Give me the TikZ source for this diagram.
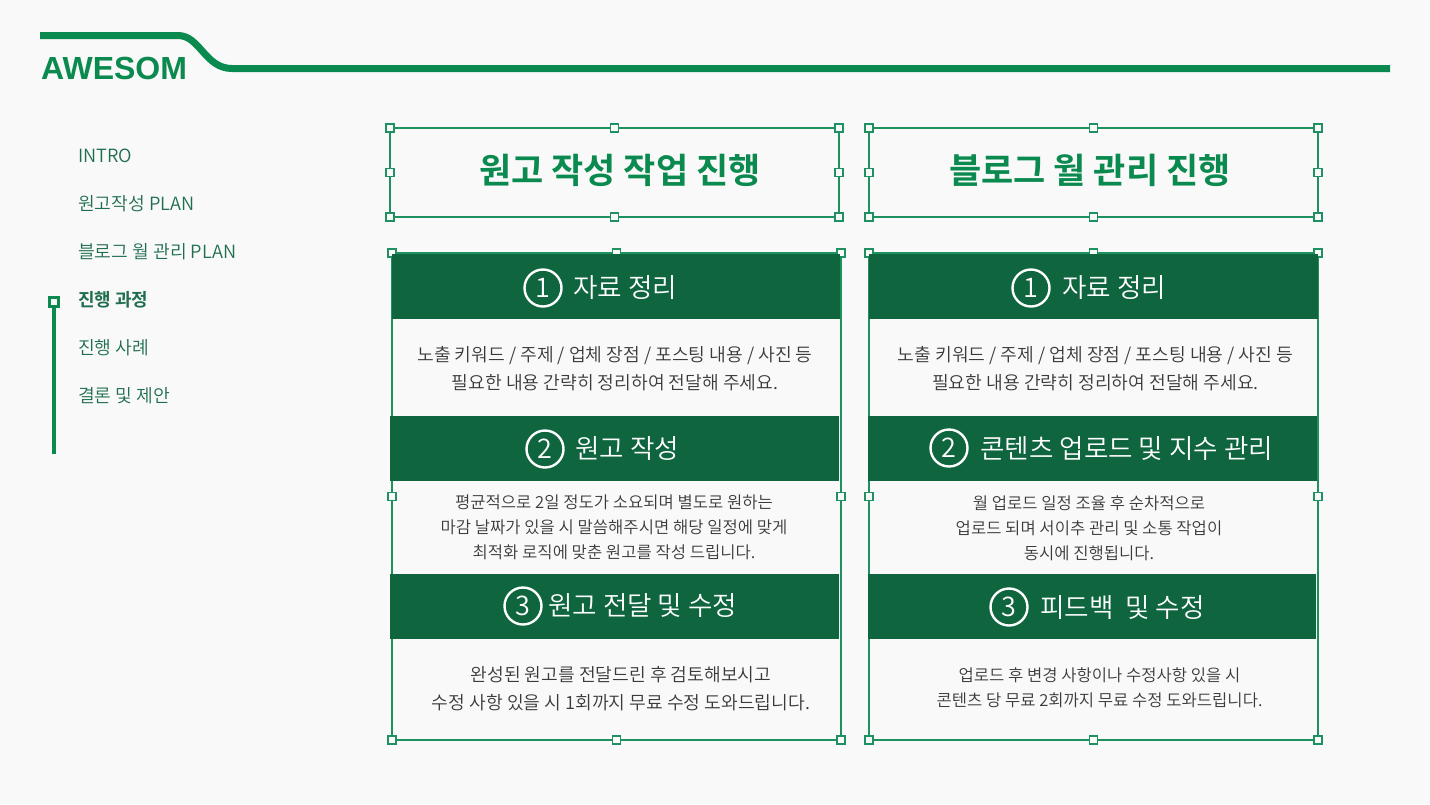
\documentclass[tikz,border=0pt]{standalone}
\usepackage{fontspec}
\setmainfont{Noto Sans CJK KR DemiLight}[BoldFont=Noto Sans CJK KR Bold]
\newfontfamily\logofont{Liberation Sans}
\definecolor{pagebg}{HTML}{F9F9F9}
\definecolor{linegreen}{HTML}{0B8A50}
\definecolor{bandgreen}{HTML}{0E653E}
\definecolor{framegreen}{HTML}{1F9060}
\definecolor{menugreen}{HTML}{1F6E4E}
\definecolor{bodygray}{HTML}{3A3A3A}
\tikzset{
  selframe/.style={draw=framegreen,line width=1.6pt,inner sep=0pt,outer sep=0pt,anchor=north west},
  handle/.style={draw=framegreen,fill=pagebg,line width=1.4pt,minimum size=8pt,inner sep=0pt},
  band/.style={fill=bandgreen,inner sep=0pt,outer sep=0pt,anchor=north west,minimum height=65pt},
  numcircle/.style={draw=white,circle,line width=2.4pt,minimum size=37pt,inner sep=0pt,text=white,font=\fontsize{27}{27}\selectfont},
  bandtext/.style={anchor=west,text=white,inner sep=0pt,font=\fontsize{26.6}{26.6}\selectfont},
  titletext/.style={text=linegreen,font=\bfseries\fontsize{35}{35}\selectfont},
  bodytext/.style={text=bodygray,align=center,font=\fontsize{18.2}{28}\selectfont},
  smalltext/.style={text=bodygray,align=center,font=\fontsize{16.6}{25.2}\selectfont},
  menutext/.style={anchor=west,text=menugreen,inner sep=0pt,font=\fontsize{18.2}{18.2}\selectfont},
}
\begin{document}
\begin{tikzpicture}[x=1pt,y=-1pt]
        \useasboundingbox (0,0) rectangle (1430,804);
        \fill[pagebg] (0,0) rectangle (1430,804);

        % header line
        \coordinate (linestart) at (40,35.5);
        \coordinate (lineend) at (1390,68.5);
        \draw[linegreen,line width=7pt] (linestart) -- (178,35.5) .. controls (200,35.5) and (205,68.5) .. (232,68.5) -- (lineend);
        \node[anchor=west,text=linegreen,inner sep=0pt,font=\logofont\bfseries\fontsize{32}{32}\selectfont] (logo) at (41,68.5) {AWESOM};

        % side menu
        \node[menutext] (menua) at (78,156) {INTRO};
        \node[menutext] (menub) at (78,204) {원고작성 PLAN};
        \node[menutext] (menuc) at (78,252) {블로그 월 관리 PLAN};
        \node[menutext,font=\bfseries\fontsize{18}{18}\selectfont] (menud) at (78,300) {진행 과정};
        \node[menutext] (menue) at (78,348) {진행 사례};
        \node[menutext] (menuf) at (78,396) {결론 및 제안};
        \coordinate (sideend) at (54,454);
        \node[draw=linegreen,fill=pagebg,line width=3pt,minimum size=9pt,inner sep=0pt] (sidemark) at (54,302) {};
        \draw[linegreen,line width=4pt] (sidemark) -- (sideend);

        % title boxes
        \node[selframe,minimum width=449pt,minimum height=89pt] (titlea) at (390,128) {};
        \node[selframe,minimum width=449pt,minimum height=89pt] (titleb) at (869,128) {};
        \foreach \t in {titlea,titleb}
          \foreach \a in {north west,north,north east,west,east,south west,south,south east}
            \node[handle] (\t-\a) at (\t.\a) {};
        \node[titletext] (titleatext) at (620,170) {원고 작성 작업 진행};
        \node[titletext] (titlebtext) at (1090,170) {블로그 월 관리 진행};

        % step frames
        \node[selframe,minimum width=449pt,minimum height=487pt] (framea) at (392,253) {};
        \node[selframe,minimum width=449pt,minimum height=487pt] (frameb) at (869,253) {};
        \foreach \t in {framea,frameb}
          \foreach \a in {north west,north,north east,west,east,south west,south,south east}
            \node[handle] (\t-\a) at (\t.\a) {};

        % left column
        \node[band,minimum width=448pt] (banda) at (392,254) {};
        \node[band,minimum width=449pt] (bandb) at (390,416) {};
        \node[band,minimum width=449pt] (bandc) at (390,574) {};
        \node[numcircle] (numa) at (543,288) {1};
        \node[bandtext] (heada) at (573,288) {자료 정리};
        \node[numcircle] (numb) at (545,449) {2};
        \node[bandtext] (headb) at (575,449) {원고 작성};
        \node[numcircle] (numc) at (523,606) {3};
        \node[bandtext] (headc) at (548,606) {원고 전달 및 수정};
        \node[bodytext] (bodya) at (615,369) {노출 키워드 / 주제 / 업체 장점 / 포스팅 내용 / 사진 등\\필요한 내용 간략히 정리하여 전달해 주세요.};
        \node[smalltext] (bodyb) at (614,527) {평균적으로 2일 정도가 소요되며 별도로 원하는\\마감 날짜가 있을 시 말씀해주시면 해당 일정에 맞게\\최적화 로직에 맞춘 원고를 작성 드립니다.};
        \node[bodytext] (bodyc) at (621,689) {완성된 원고를 전달드린 후 검토해보시고\\수정 사항 있을 시 1회까지 무료 수정 도와드립니다.};

        % right column
        \node[band,minimum width=449pt] (bandd) at (869,254) {};
        \node[band,minimum width=449pt] (bande) at (868,416) {};
        \node[band,minimum width=448pt] (bandf) at (868,574) {};
        \node[numcircle] (numd) at (1031,288) {1};
        \node[bandtext] (headd) at (1062,288) {자료 정리};
        \node[numcircle] (nume) at (949,448) {2};
        \node[bandtext] (heade) at (980,449) {콘텐츠 업로드 및 지수 관리};
        \node[numcircle] (numf) at (1009,607) {3};
        \node[bandtext] (headf) at (1040,608) {피드백\ \ 및 수정};
        \node[bodytext] (bodyd) at (1095.5,369) {노출 키워드 / 주제 / 업체 장점 / 포스팅 내용 / 사진 등\\필요한 내용 간략히 정리하여 전달해 주세요.};
        \node[smalltext] (bodye) at (1089,528) {월 업로드 일정 조율 후 순차적으로\\업로드 되며 서이추 관리 및 소통 작업이\\동시에 진행됩니다.};
        \node[smalltext] (bodyf) at (1099.5,688) {업로드 후 변경 사항이나 수정사항 있을 시\\콘텐츠 당 무료 2회까지 무료 수정 도와드립니다.};
      \end{tikzpicture}
\end{document}
